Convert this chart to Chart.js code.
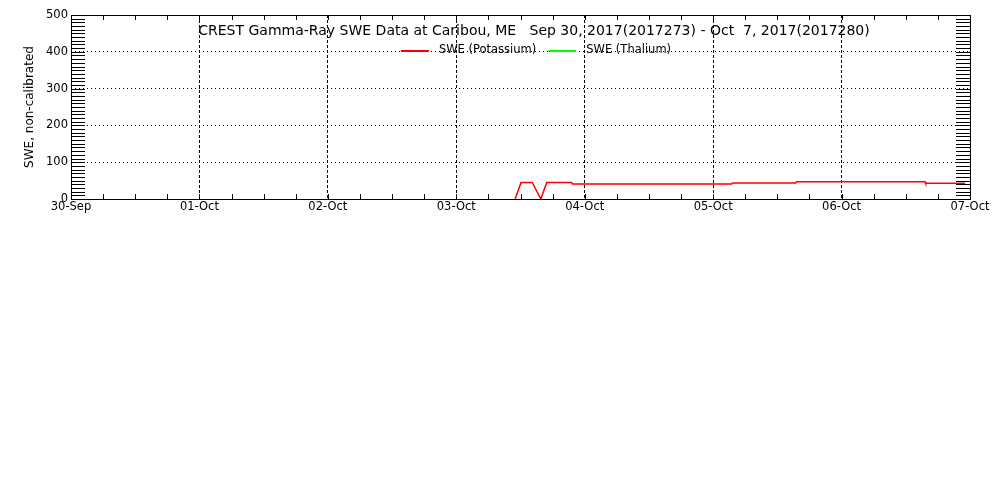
<!DOCTYPE html>
<html>
<head>
<meta charset="utf-8">
<script src="https://cdn.jsdelivr.net/npm/chart.js@4"></script>
<style>
  html, body { margin: 0; padding: 0; background: #fff; }
</style>
</head>
<body>
<canvas id="chart" width="1000" height="500"></canvas>
<script>
// x values are hours since 30-Sep 00:00
const dayLabels = ['30-Sep', '01-Oct', '02-Oct', '03-Oct', '04-Oct', '05-Oct', '06-Oct', '07-Oct'];
const potassiumHours = [83.0, 84.1, 86.2, 87.8, 88.9, 93.5, 93.7, 123.5, 123.6, 135.4, 135.6, 159.6, 159.7, 167.1];
const potassiumSwe = [0, 45, 45, 0, 45, 45, 41, 41, 43.5, 43.5, 47, 47, 42.7, 42.7];
const thaliumHours = [];
const thaliumSwe = [];
const titleText = 'CREST Gamma-Ray SWE Data at Caribou, ME   Sep 30, 2017(2017273) - Oct  7, 2017(2017280)';
const yTitle = 'SWE, non-calibrated';

const toPoints = (xs, ys) => xs.map((x, i) => ({ x: x, y: ys[i] }));

// frame, minor ticks, title and legend drawn inside the plot like IDL does
const idlFrame = {
    id: 'idlFrame',
    afterDatasetsDraw(chart) {
        const ctx = chart.ctx;
        const a = chart.chartArea;
        const xs = chart.scales.x;
        const ys = chart.scales.y;
        ctx.save();
        ctx.setLineDash([]);
        ctx.strokeStyle = '#000';
        ctx.lineWidth = 1;
        ctx.beginPath();
        for (let h = 0; h <= 168; h += 6) {
            const px = Math.round(xs.getPixelForValue(h)) + 0.5;
            ctx.moveTo(px, a.bottom); ctx.lineTo(px, a.bottom - 5);
            ctx.moveTo(px, a.top); ctx.lineTo(px, a.top + 5);
        }
        for (let v = 0; v <= 500; v += 10) {
            const py = Math.round(ys.getPixelForValue(v)) + 0.5;
            ctx.moveTo(a.left, py); ctx.lineTo(a.left + 14, py);
            ctx.moveTo(a.right, py); ctx.lineTo(a.right - 14, py);
        }
        ctx.stroke();
        ctx.strokeRect(Math.round(a.left) + 0.5, Math.round(a.top) + 0.5,
            Math.round(a.right - a.left), Math.round(a.bottom - a.top));

        ctx.fillStyle = '#000';
        ctx.font = '14px "DejaVu Sans"';
        ctx.textAlign = 'center';
        ctx.textBaseline = 'middle';
        ctx.fillText(titleText, 534, 31);

        // y axis title
        ctx.save();
        ctx.translate(30, (a.top + a.bottom) / 2);
        ctx.rotate(-Math.PI / 2);
        ctx.font = '12px "DejaVu Sans"';
        ctx.fillText(yTitle, 0, 0);
        ctx.restore();

        // legend
        ctx.font = '11.5px "DejaVu Sans"';
        ctx.textAlign = 'left';
        const sets = chart.data.datasets;
        const lineLen = 28, gap = 10, between = 12;
        let total = 0;
        sets.forEach((d, i) => {
            total += lineLen + gap + ctx.measureText(d.label).width + (i < sets.length - 1 ? between : 0);
        });
        let x = 536 - total / 2;
        const ly = 51;
        sets.forEach(d => {
            ctx.fillStyle = d.borderColor;
            ctx.fillRect(x, ly - 1, lineLen, 2);
            x += lineLen + gap;
            ctx.fillStyle = '#000';
            ctx.fillText(d.label, x, ly - 1);
            x += ctx.measureText(d.label).width + between;
        });
        ctx.restore();
    }
};

const gridColor = (ctx, last) =>
    (ctx.index === 0 || ctx.index === last) ? 'rgba(0,0,0,0)' : '#000';

new Chart(document.getElementById('chart'), {
    type: 'line',
    data: {
        datasets: [
            {
                label: 'SWE (Potassium)',
                data: toPoints(potassiumHours, potassiumSwe),
                borderColor: '#ff0000',
                borderWidth: 1.5,
                pointRadius: 0,
                tension: 0
            },
            {
                label: 'SWE (Thalium)',
                data: toPoints(thaliumHours, thaliumSwe),
                borderColor: '#00ff00',
                borderWidth: 1.5,
                pointRadius: 0,
                tension: 0
            }
        ]
    },
    options: {
        responsive: false,
        animation: false,
        layout: { padding: { top: 15, right: 30, left: 0, bottom: 0 } },
        plugins: {
            legend: { display: false },
            tooltip: { enabled: false }
        },
        scales: {
            x: {
                type: 'linear',
                min: 0,
                max: 168,
                afterFit: (s) => { s.height = 301; },
                ticks: {
                    stepSize: 24,
                    autoSkip: false,
                    maxRotation: 0,
                    padding: 1,
                    color: '#000',
                    font: { family: 'DejaVu Sans', size: 11.5 },
                    callback: (v) => dayLabels[v / 24]
                },
                grid: {
                    drawTicks: false,
                    lineWidth: 1,
                    color: (ctx) => gridColor(ctx, dayLabels.length - 1)
                },
                border: { display: false, dash: [3, 2] }
            },
            y: {
                min: 0,
                max: 500,
                afterFit: (s) => { s.width = 71; },
                ticks: {
                    stepSize: 100,
                    padding: 3,
                    color: '#000',
                    font: { family: 'DejaVu Sans', size: 11.5 }
                },
                grid: {
                    drawTicks: false,
                    lineWidth: 1,
                    color: (ctx) => gridColor(ctx, 5)
                },
                border: { display: false, dash: [1, 3] }
            }
        }
    },
    plugins: [idlFrame]
});
</script>
</body>
</html>
